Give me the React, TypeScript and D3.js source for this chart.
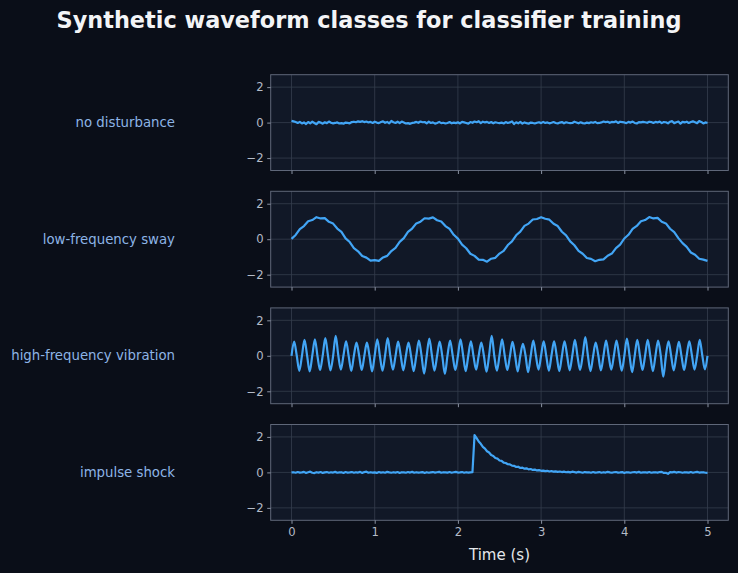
import { useEffect, useRef } from 'react'
import * as d3 from 'd3'

const TITLE = 'Synthetic waveform classes for classifier training'
const CLASS_LABELS = ['no disturbance', 'low-frequency sway', 'high-frequency vibration', 'impulse shock']
const TIME_TICKS = [0, 1, 2, 3, 4, 5]
const AMP_TICKS = [-2, 0, 2]
// seconds between samples for each class
const SAMPLE_STEPS = [0.025, 0.05, 1 / 32, 0.025]

const noDisturbance = [
  0.10, 0.07, 0.03, -0.02, 0.04, -0.05, 0.01, -0.08, 0.03, -0.04,
  0.05, -0.02, -0.09, 0.04, 0.00, -0.06, 0.02, -0.03, 0.06, -0.01,
  -0.04, -0.02, 0.01, -0.05, -0.03, -0.06, 0.00, -0.02, -0.04, 0.03,
  0.05, 0.02, 0.07, 0.04, 0.08, 0.03, 0.06, 0.01, 0.04, -0.02,
  0.05, 0.00, -0.03, 0.03, 0.07, -0.01, 0.04, -0.04, 0.09, 0.02,
  -0.02, 0.05, -0.03, 0.06, 0.01, -0.05, -0.03, -0.07, -0.02, 0.00,
  0.04, -0.01, 0.06, 0.02, 0.03, -0.04, 0.05, -0.02, 0.01, -0.06,
  -0.02, 0.04, -0.03, -0.01, -0.05, -0.02, 0.03, -0.04, 0.00, -0.03,
  0.02, -0.05, 0.04, 0.01, -0.02, -0.06, 0.03, -0.01, 0.06, 0.02,
  0.08, -0.03, 0.05, 0.01, 0.04, -0.02, 0.03, -0.04, 0.02, -0.01,
  -0.03, 0.00, -0.05, 0.03, -0.02, 0.01, 0.07, -0.08, 0.02, -0.04,
  0.04, -0.06, 0.01, -0.03, -0.06, 0.00, -0.02, -0.05, -0.01, 0.02,
  -0.03, 0.04, -0.02, 0.01, -0.04, -0.01, 0.03, -0.02, -0.05, 0.00,
  0.03, -0.04, 0.02, -0.01, -0.03, -0.02, 0.05, 0.01, -0.04, 0.02,
  -0.03, -0.05, 0.00, -0.03, 0.02, -0.01, 0.04, -0.03, -0.02, 0.01,
  0.06, 0.03, 0.05, -0.01, 0.04, 0.02, 0.07, -0.02, 0.05, 0.03,
  0.01, -0.03, 0.04, 0.00, 0.06, -0.02, -0.05, 0.03, 0.01, 0.04,
  0.02, -0.01, 0.05, 0.03, -0.02, 0.04, 0.01, 0.06, -0.03, 0.03,
  0.02, -0.04, 0.05, 0.08, -0.03, 0.02, 0.06, -0.06, 0.04, 0.01,
  0.05, -0.02, 0.03, 0.07, 0.02, -0.03, 0.09, 0.04, -0.05, 0.01,
  -0.02,
]

const lowFreqSway = [
  0.02, 0.24, 0.57, 0.74, 1.01, 1.08, 1.24, 1.17, 1.19, 0.98,
  0.88, 0.60, 0.41, 0.05, -0.16, -0.50, -0.68, -0.95, -1.04, -1.21,
  -1.18, -1.22, -1.03, -0.94, -0.67, -0.49, -0.15, 0.06, 0.41, 0.60,
  0.89, 0.99, 1.18, 1.16, 1.23, 1.07, 1.00, 0.74, 0.58, 0.25,
  0.03, -0.31, -0.51, -0.82, -0.94, -1.15, -1.16, -1.27, -1.10, -1.05,
  -0.81, -0.66, -0.33, -0.12, 0.22, 0.43, 0.75, 0.88, 1.11, 1.14,
  1.24, 1.15, 1.10, 0.87, 0.74, 0.42, 0.22, -0.12, -0.34, -0.66,
  -0.82, -1.06, -1.11, -1.24, -1.16, -1.14, -0.93, -0.81, -0.50, -0.31,
  0.04, 0.25, 0.58, 0.75, 1.01, 1.08, 1.25, 1.17, 1.20, 0.98,
  0.89, 0.59, 0.40, 0.06, -0.22, -0.43, -0.75, -0.88, -1.10, -1.15,
  -1.22,
]

// quarter-period samples: crossing, crest, crossing, trough
const highFreqVibration = [
  0.00, 0.80, 0.03, -0.85, -0.02, 0.90, 0.01, -0.88,
  0.02, 0.93, -0.03, -0.80, 0.01, 1.00, 0.04, -0.82,
  -0.01, 1.12, 0.02, -0.78, 0.03, 0.82, -0.02, -0.85,
  0.01, 0.74, 0.03, -0.80, -0.02, 0.74, 0.00, -0.88,
  0.02, 0.93, -0.01, -0.84, 0.03, 1.00, 0.01, -0.78,
  -0.02, 0.80, 0.02, -0.82, 0.00, 0.74, -0.03, -0.86,
  0.01, 0.86, 0.02, -1.00, -0.01, 0.97, 0.03, -0.84,
  0.00, 0.80, -0.02, -1.02, 0.02, 0.86, 0.01, -0.80,
  -0.01, 0.93, 0.03, -0.86, 0.02, 0.82, -0.02, -0.78,
  0.01, 0.74, 0.00, -0.90, 0.03, 1.12, -0.01, -0.84,
  0.02, 0.93, 0.01, -0.80, -0.03, 0.78, 0.02, -0.88,
  0.00, 0.67, 0.03, -0.92, -0.01, 0.86, 0.02, -0.78,
  0.01, 0.82, -0.02, -0.84, 0.03, 0.82, 0.00, -0.86,
  -0.01, 0.82, 0.02, -0.82, 0.01, 0.90, -0.03, -0.80,
  0.02, 1.05, 0.01, -0.86, -0.02, 0.74, 0.03, -0.82,
  0.00, 0.86, -0.01, -0.78, 0.02, 0.86, 0.01, -0.84,
  -0.02, 0.97, 0.03, -0.92, 0.00, 0.90, 0.02, -0.80,
  0.01, 0.90, -0.01, -0.86, 0.02, 0.86, 0.03, -1.18,
  -0.01, 0.82, 0.02, -0.82, 0.00, 0.78, -0.02, -0.80,
  0.01, 0.82, 0.03, -0.78, -0.01, 0.90, 0.02, -0.76,
  0.00,
]

const impulseShock = [
  0.00, 0.01, -0.02, 0.02, -0.01, 0.00, 0.03, -0.03, 0.01, 0.04,
  -0.02, -0.04, 0.01, -0.01, 0.02, -0.03, 0.00, 0.02, -0.02, 0.01,
  -0.01, 0.03, -0.02, 0.00, 0.01, -0.03, 0.02, -0.01, 0.00, 0.02,
  -0.02, 0.01, -0.01, 0.03, -0.03, 0.02, 0.04, -0.02, 0.01, -0.01,
  0.00, -0.03, 0.02, -0.01, 0.01, -0.02, 0.03, 0.00, -0.02, 0.01,
  -0.01, 0.02, -0.03, 0.01, 0.00, -0.02, 0.02, -0.01, 0.03, -0.02,
  0.01, -0.01, 0.00, 0.02, -0.03, 0.01, -0.02, 0.00, 0.02, -0.01,
  0.01, 0.03, -0.02, 0.01, 0.00, -0.01, 0.02, -0.02, 0.01, 0.03,
  -0.01, 0.00, 0.02, -0.02, 0.01, -0.01, 0.00, 0.01,
  // shock at t = 2.2 s
  2.10, 1.93, 1.74, 1.61, 1.44, 1.34, 1.19, 1.12, 0.98, 0.93,
  0.81, 0.78, 0.67, 0.65, 0.55, 0.53, 0.46, 0.45, 0.38, 0.37,
  0.31, 0.32, 0.25, 0.27, 0.21, 0.23, 0.17, 0.19, 0.14, 0.16,
  0.11, 0.13, 0.09, 0.10, 0.07, 0.09, 0.05, 0.08, 0.04, 0.06,
  0.03, 0.05, 0.02, 0.04, 0.01, 0.03, 0.00, 0.04, 0.02, -0.01,
  0.03, 0.01, -0.02, 0.02, 0.00, 0.01, -0.02, 0.02, -0.01, 0.00,
  0.02, -0.02, 0.01, -0.01, 0.03, 0.00, -0.02, 0.01, 0.02, -0.01,
  0.00, 0.02, -0.03, 0.01, 0.00, -0.02, 0.01, 0.02, -0.01, 0.03,
  -0.02, 0.00, 0.01, -0.01, 0.02, -0.02, 0.00, 0.01, -0.01, 0.02,
  0.03, -0.03, -0.02, -0.08, 0.02, 0.00, 0.03, -0.01, 0.02, 0.01,
  -0.02, 0.01, 0.00, -0.01, 0.02, -0.02, 0.01, 0.03, -0.01, 0.00,
  0.01, -0.02, -0.03,
]

const SERIES = [noDisturbance, lowFreqSway, highFreqVibration, impulseShock]

const W = 738
const H = 573
const FONT = '"DejaVu Sans", sans-serif'

export default function App() {
  const svgRef = useRef<SVGSVGElement>(null)

  useEffect(() => {
    if (!svgRef.current) return
    const svg = d3.select(svgRef.current)
    svg.selectAll('*').remove()

    const left = 270.7
    const right = 728.3
    const top0 = 74.7
    const panelH = 95.8
    const panelStep = 116.6

    svg.append('rect').attr('width', W).attr('height', H).attr('fill', '#0a0e18')

    svg.append('text')
      .attr('x', 369).attr('y', 28).attr('text-anchor', 'middle')
      .attr('font-family', FONT).attr('font-size', '22.4px').attr('font-weight', 'bold')
      .attr('fill', '#f3f4f6').text(TITLE)

    const x = d3.scaleLinear().domain([-0.25, 5.25]).range([left, right])

    SERIES.forEach((values, i) => {
      const top = top0 + i * panelStep
      const y = d3.scaleLinear().domain([-2.7, 2.7]).range([top + panelH, top])
      const step = SAMPLE_STEPS[i]
      const isLast = i === SERIES.length - 1

      svg.append('rect').attr('x', left).attr('y', top).attr('width', right - left).attr('height', panelH)
        .attr('fill', '#111827')

      // grid
      const grid = svg.append('g').attr('stroke', '#353d4d').attr('stroke-width', 0.8)
      grid.selectAll('line.v').data(TIME_TICKS).enter().append('line')
        .attr('x1', d => x(d)).attr('x2', d => x(d)).attr('y1', top).attr('y2', top + panelH)
      grid.selectAll('line.h').data(AMP_TICKS).enter().append('line')
        .attr('x1', left).attr('x2', right).attr('y1', d => y(d)).attr('y2', d => y(d))

      const line = d3.line<number>()
        .x((_, k) => x(k * step))
        .y(d => y(d))
        .curve(i === 2 ? d3.curveMonotoneX : d3.curveLinear)

      svg.append('path').datum(values)
        .attr('fill', 'none').attr('stroke', '#42a5f5').attr('stroke-width', 2.2)
        .attr('stroke-linejoin', 'round')
        .attr('d', line)

      svg.append('rect').attr('x', left).attr('y', top).attr('width', right - left).attr('height', panelH)
        .attr('fill', 'none').attr('stroke', '#5f6779').attr('stroke-width', 1)

      const styleAxis = (ax: d3.Selection<SVGGElement, unknown, null, undefined>) => {
        ax.select('.domain').remove()
        ax.selectAll('.tick line').attr('stroke', '#8a92a2')
        ax.selectAll('.tick text').attr('fill', '#b4bbc7').attr('font-size', '11.6px').attr('font-family', FONT)
      }

      svg.append('g').attr('transform', `translate(${left},0)`)
        .call(d3.axisLeft(y).tickValues(AMP_TICKS).tickSize(3.5).tickPadding(3.5).tickFormat(d3.format('d')))
        .call(styleAxis)

      svg.append('g').attr('transform', `translate(0,${top + panelH})`)
        .call(d3.axisBottom(x).tickValues(TIME_TICKS).tickSize(3.5).tickPadding(3.5)
          .tickFormat(d => (isLast ? d3.format('d')(d as number) : '')))
        .call(styleAxis)

      svg.append('text')
        .attr('x', 175).attr('y', top + panelH / 2).attr('dy', '0.35em').attr('text-anchor', 'end')
        .attr('font-family', FONT).attr('font-size', '13.3px').attr('fill', '#8db4e6')
        .text(CLASS_LABELS[i])
    })

    svg.append('text')
      .attr('x', (left + right) / 2).attr('y', 560).attr('text-anchor', 'middle')
      .attr('font-family', FONT).attr('font-size', '15px').attr('fill', '#e5e7eb')
      .text('Time (s)')
  }, [])

  return (
    <svg ref={svgRef} width={W} height={H}
      style={{ position: 'absolute', left: 0, top: 0, display: 'block' }} />
  )
}
